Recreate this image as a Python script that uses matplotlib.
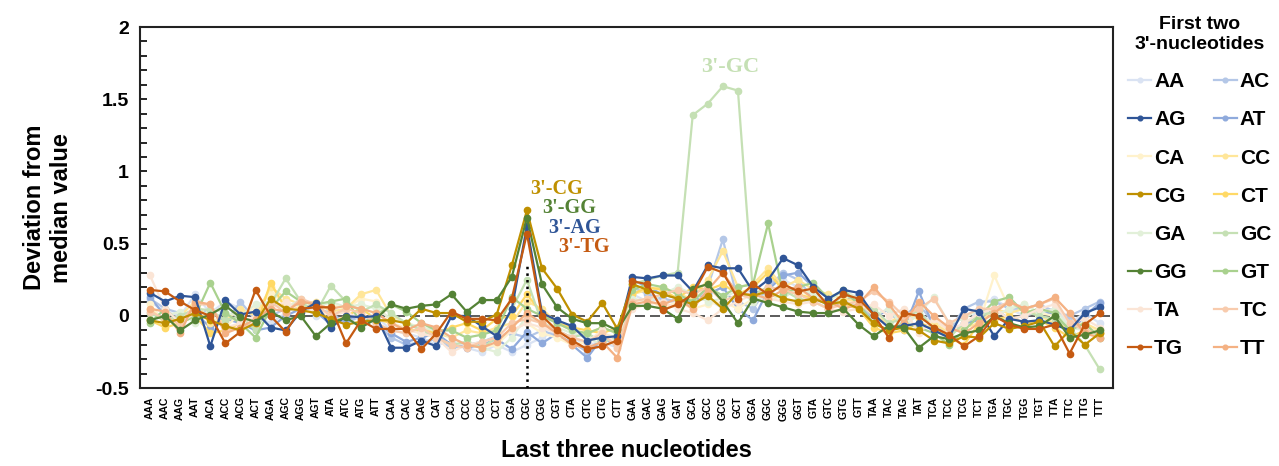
import numpy as np
import matplotlib.pyplot as plt
from matplotlib.ticker import MultipleLocator

triplets = [a + b + c for a in "ACGT" for b in "ACGT" for c in "ACGT"]

series_names = ["AA", "AC", "AG", "AT", "CA", "CC", "CG", "CT",
                "GA", "GC", "GG", "GT", "TA", "TC", "TG", "TT"]
colors = ["#dae3f3", "#b4c7e7", "#2f5597", "#8faadc", "#fff2cc", "#ffe699", "#bf9000", "#ffd966",
          "#e2f0d9", "#c5e0b4", "#548235", "#a9d18e", "#fbe5d6", "#f8cbad", "#c55a11", "#f4b183"]

AA = [0.10, 0.03, 0.00, 0.15, 0.02, 0.10, 0.05, 0.00, -0.05, 0.02, 0.08, 0.00, 0.05, 0.02, -0.02, 0.00,
      -0.10, -0.12, -0.15, -0.20, -0.18, -0.22, -0.25, -0.20, -0.25, -0.20, -0.15, -0.10, -0.15, -0.20, -0.18, -0.22,
      0.15, 0.10, 0.12, 0.08, 0.10, 0.12, 0.05, 0.15, 0.18, 0.12, 0.25, 0.20, 0.15, 0.10, 0.08, 0.10,
      0.00, 0.05, -0.05, 0.02, -0.05, -0.08, -0.12, 0.08, 0.12, 0.05, 0.00, 0.03, 0.05, -0.05, 0.02, -0.05]
AC = [0.12, 0.05, 0.02, 0.00, 0.05, -0.05, 0.10, -0.03, 0.00, 0.05, 0.08, 0.05, 0.02, -0.05, 0.00, -0.05,
      -0.15, -0.20, -0.18, -0.16, -0.22, -0.20, -0.18, -0.14, -0.12, -0.15, -0.10, -0.14, -0.18, -0.25, -0.15, -0.20,
      0.20, 0.15, 0.12, 0.10, 0.08, 0.20, 0.53, 0.10, 0.05, 0.20, 0.30, 0.25, 0.12, 0.08, 0.10, 0.08,
      -0.02, -0.05, 0.00, 0.08, -0.05, -0.10, 0.05, 0.10, 0.10, 0.05, 0.05, 0.08, 0.03, 0.00, 0.05, 0.10]
AG = [0.16, 0.10, 0.14, 0.13, -0.21, 0.11, 0.01, 0.03, -0.08, -0.10, 0.03, 0.09, -0.08, 0.00, -0.01, 0.00,
      -0.22, -0.22, -0.17, -0.21, 0.00, 0.00, -0.07, -0.14, 0.05, 0.62, 0.02, -0.03, -0.07, -0.17, -0.15, -0.14,
      0.27, 0.26, 0.28, 0.28, 0.17, 0.35, 0.33, 0.33, 0.17, 0.25, 0.40, 0.35, 0.20, 0.12, 0.18, 0.16,
      0.01, -0.08, -0.07, -0.05, -0.10, -0.15, 0.05, 0.03, -0.14, -0.02, -0.04, -0.03, -0.06, -0.10, 0.02, 0.06]
AT = [0.13, 0.00, -0.05, 0.02, -0.08, -0.02, -0.05, -0.10, -0.08, 0.00, 0.05, 0.03, -0.06, -0.02, 0.00, -0.04,
      -0.12, -0.18, -0.15, -0.12, -0.20, -0.22, -0.20, -0.16, -0.23, -0.11, -0.19, -0.12, -0.20, -0.29, -0.15, -0.20,
      0.25, 0.20, 0.15, 0.12, 0.10, 0.15, 0.20, 0.05, -0.03, 0.18, 0.28, 0.30, 0.20, 0.05, 0.10, 0.15,
      -0.02, 0.05, -0.10, 0.17, -0.08, -0.12, -0.05, -0.03, 0.05, -0.02, 0.00, 0.05, 0.00, -0.12, 0.00, 0.09]
CA = [0.08, -0.05, -0.02, 0.05, 0.00, -0.08, 0.02, 0.05, 0.15, 0.10, 0.05, 0.02, 0.08, 0.05, 0.12, 0.10,
      -0.05, -0.08, -0.12, -0.15, -0.20, -0.18, -0.22, -0.20, -0.10, -0.05, -0.12, -0.15, -0.20, -0.18, -0.12, -0.15,
      0.10, 0.12, 0.05, 0.10, 0.05, 0.08, 0.10, 0.05, 0.12, 0.10, 0.15, 0.20, 0.10, 0.05, 0.12, 0.08,
      0.05, -0.08, -0.05, 0.00, -0.05, -0.10, -0.08, -0.05, 0.28, 0.05, 0.08, 0.02, 0.00, -0.10, -0.05, -0.12]
CC = [0.05, -0.05, 0.00, 0.10, -0.05, -0.03, 0.05, 0.00, 0.20, 0.12, 0.08, 0.10, 0.03, 0.05, 0.15, 0.18,
      0.00, -0.05, -0.08, -0.12, -0.15, -0.10, -0.12, -0.08, -0.05, 0.10, 0.05, -0.05, -0.10, -0.12, -0.08, -0.12,
      0.15, 0.18, 0.20, 0.15, 0.12, 0.25, 0.45, 0.20, 0.22, 0.33, 0.20, 0.25, 0.18, 0.15, 0.12, 0.10,
      0.00, -0.05, 0.02, -0.02, -0.05, -0.12, -0.08, -0.05, 0.05, 0.02, 0.05, 0.00, -0.05, -0.08, -0.05, -0.10]
CG = [-0.03, -0.05, -0.02, 0.02, -0.03, -0.07, -0.10, -0.05, 0.12, 0.05, 0.04, 0.02, -0.02, -0.06, -0.04, -0.03,
      -0.03, -0.05, 0.05, 0.02, 0.02, -0.04, -0.04, 0.01, 0.35, 0.73, 0.33, 0.19, 0.01, -0.04, 0.09, -0.09,
      0.22, 0.18, 0.15, 0.12, 0.08, 0.14, 0.05, 0.16, 0.14, 0.17, 0.12, 0.10, 0.12, 0.08, 0.10, 0.05,
      -0.05, -0.10, -0.08, -0.10, -0.17, -0.19, -0.14, -0.15, -0.05, -0.09, -0.07, -0.04, -0.21, -0.10, -0.20, -0.12]
CT = [-0.03, -0.08, -0.05, 0.00, -0.12, -0.10, -0.05, -0.08, 0.23, 0.05, 0.05, 0.08, -0.05, 0.00, 0.05, -0.02,
      -0.05, -0.10, -0.10, -0.12, -0.08, -0.05, -0.10, -0.02, 0.00, 0.15, 0.02, -0.05, -0.08, -0.10, -0.12, -0.08,
      0.15, 0.20, 0.18, 0.12, 0.20, 0.18, 0.22, 0.15, 0.20, 0.30, 0.18, 0.15, 0.12, 0.10, 0.08, 0.05,
      -0.08, -0.12, -0.10, -0.05, -0.08, -0.15, -0.20, -0.05, -0.03, 0.00, -0.05, -0.03, -0.08, -0.15, -0.10, -0.12]
GA = [-0.02, 0.00, 0.03, -0.05, 0.05, 0.02, 0.00, 0.08, 0.10, 0.05, 0.12, 0.05, 0.10, 0.06, 0.08, 0.05,
      -0.02, -0.05, -0.08, -0.10, -0.15, -0.20, -0.22, -0.25, -0.15, 0.00, -0.05, -0.08, -0.12, -0.15, -0.20, -0.18,
      0.12, 0.10, 0.15, 0.20, 0.15, 0.10, 0.12, 0.18, 0.10, 0.15, 0.12, 0.20, 0.15, 0.10, 0.18, 0.12,
      0.00, 0.05, -0.08, 0.02, 0.13, -0.05, -0.02, 0.05, 0.00, 0.05, 0.08, 0.02, 0.05, -0.08, -0.10, -0.15]
GC = [0.02, -0.03, 0.00, 0.05, 0.04, -0.03, 0.00, -0.10, 0.08, 0.26, 0.10, 0.02, 0.21, 0.10, 0.03, 0.08,
      0.02, -0.05, -0.10, -0.15, -0.20, -0.18, -0.22, -0.15, 0.05, 0.25, -0.05, -0.10, -0.15, -0.12, -0.18, -0.15,
      0.22, 0.25, 0.28, 0.30, 1.39, 1.47, 1.59, 1.56, 0.15, 0.20, 0.18, 0.12, 0.10, 0.05, 0.15, 0.10,
      0.05, -0.05, -0.02, 0.04, -0.10, -0.15, -0.05, 0.00, 0.03, 0.10, 0.03, 0.00, -0.02, -0.08, -0.20, -0.37]
GG = [-0.03, 0.00, -0.10, -0.03, 0.01, 0.07, -0.01, -0.04, 0.03, -0.03, 0.00, -0.14, -0.05, -0.01, -0.08, -0.02,
      0.08, 0.05, 0.07, 0.08, 0.15, 0.03, 0.11, 0.11, 0.27, 0.68, 0.22, 0.06, -0.02, -0.05, -0.05, -0.10,
      0.07, 0.07, 0.05, -0.02, 0.19, 0.22, 0.10, -0.05, 0.12, 0.09, 0.06, 0.03, 0.02, 0.02, 0.05, -0.06,
      -0.14, -0.07, -0.08, -0.22, -0.14, -0.16, -0.12, -0.10, 0.00, -0.05, -0.08, -0.07, 0.00, -0.15, -0.13, -0.10]
GT = [-0.05, 0.05, -0.05, 0.00, 0.23, 0.02, -0.05, -0.15, 0.05, 0.17, 0.10, 0.08, 0.10, 0.12, -0.05, 0.00,
      0.08, 0.03, -0.05, -0.10, -0.10, -0.15, -0.13, -0.10, 0.13, 0.05, 0.00, -0.05, -0.10, -0.12, -0.08, -0.12,
      0.18, 0.22, 0.20, 0.15, 0.10, 0.20, 0.14, 0.20, 0.22, 0.64, 0.15, 0.20, 0.23, 0.12, 0.18, 0.08,
      -0.05, -0.10, -0.05, -0.08, -0.12, -0.20, -0.10, 0.00, 0.10, 0.13, 0.02, 0.05, 0.02, -0.10, -0.05, -0.15]
TA = [0.28, 0.05, -0.05, 0.02, -0.02, -0.08, -0.05, 0.00, 0.05, 0.10, 0.02, 0.05, 0.00, 0.03, -0.03, 0.02,
      -0.05, -0.10, -0.12, -0.15, -0.25, -0.20, -0.18, -0.15, -0.10, -0.05, -0.08, -0.12, -0.15, -0.18, -0.10, -0.20,
      0.05, 0.08, 0.10, 0.05, 0.02, -0.03, 0.05, 0.10, 0.15, 0.12, 0.10, 0.08, 0.10, 0.05, 0.03, 0.05,
      0.08, 0.00, 0.05, -0.12, -0.02, -0.10, -0.05, 0.02, 0.05, -0.02, 0.00, 0.05, 0.08, -0.05, -0.02, -0.08]
TC = [0.03, -0.02, -0.05, 0.08, 0.08, -0.10, -0.08, -0.05, 0.10, 0.02, 0.12, 0.08, 0.00, 0.05, 0.02, -0.05,
      -0.10, -0.12, -0.08, -0.15, -0.20, -0.22, -0.18, -0.15, -0.05, -0.02, -0.05, -0.10, -0.15, -0.18, -0.12, -0.22,
      0.10, 0.12, 0.15, 0.18, 0.15, 0.20, 0.10, 0.15, 0.12, 0.20, 0.18, 0.15, 0.10, 0.05, 0.08, 0.10,
      0.17, 0.10, 0.00, 0.05, 0.12, -0.05, 0.00, 0.05, 0.05, 0.10, 0.05, 0.08, 0.12, -0.05, -0.10, -0.12]
TG = [0.18, 0.17, 0.10, 0.04, 0.00, -0.19, -0.11, 0.18, 0.00, -0.11, 0.05, 0.06, 0.06, -0.19, -0.03, -0.09,
      -0.09, -0.09, -0.23, -0.12, 0.03, -0.02, -0.02, -0.03, 0.12, 0.57, 0.00, -0.10, -0.17, -0.23, -0.21, -0.17,
      0.24, 0.22, 0.04, 0.08, 0.15, 0.34, 0.30, 0.12, 0.22, 0.15, 0.22, 0.17, 0.19, 0.07, 0.15, 0.12,
      0.01, -0.15, 0.02, 0.00, -0.08, -0.13, -0.21, -0.14, 0.00, -0.06, -0.09, -0.09, -0.06, -0.26, -0.06, 0.02]
TT = [0.05, 0.03, -0.12, 0.10, 0.08, -0.12, -0.08, -0.02, 0.05, 0.03, 0.10, 0.08, 0.05, 0.07, 0.05, 0.02,
      -0.05, -0.10, -0.05, -0.08, -0.15, -0.20, -0.22, -0.18, -0.08, 0.02, -0.05, -0.12, -0.20, -0.22, -0.18, -0.29,
      0.08, 0.10, 0.08, 0.12, 0.05, 0.18, 0.30, 0.15, 0.15, 0.12, 0.18, 0.20, 0.12, 0.10, 0.05, 0.08,
      0.20, 0.08, -0.05, 0.10, 0.00, -0.08, -0.12, -0.05, 0.02, 0.10, 0.05, 0.08, 0.13, 0.02, -0.12, -0.15]

values = [AA, AC, AG, AT, CA, CC, CG, CT, GA, GC, GG, GT, TA, TC, TG, TT]

plt.rcParams["font.family"] = ["Liberation Sans", "DejaVu Sans"]
plt.rcParams["font.weight"] = "bold"

fig = plt.figure(figsize=(12.79, 4.66), dpi=100)
ax = fig.add_axes([0.1095, 0.167, 0.7605, 0.775])

x = np.arange(len(triplets))
lines = {}
for name, col, vals in zip(series_names, colors, values):
    (ln,) = ax.plot(x, vals, color=col, lw=1.6, marker="o", ms=4.5, label=name)
    lines[name] = ln
# dark series on top
for name in ["CG", "GG", "AG", "TG"]:
    lines[name].set_zorder(3)

ax.axhline(0, color="#404040", lw=1.2, ls=(0, (6, 3)), zorder=1)
ax.vlines(25, -0.5, 0.35, colors="black", linestyles=":", lw=1.8, zorder=4)

ax.set_xlim(-0.66, 63.86)
ax.set_ylim(-0.5, 2)
ax.set_xticks(x)
ax.set_xticklabels(triplets, rotation=90, fontsize=7.5, fontweight="bold")
ax.tick_params(axis="x", length=0, pad=6)
ax.yaxis.set_minor_locator(MultipleLocator(0.1))
ax.set_yticks([-0.5, 0, 0.5, 1, 1.5, 2])
ax.set_yticklabels(["-0.5", "0", "0.5", "1", "1.5", "2"], fontsize=14, fontweight="bold")
ax.tick_params(axis="y", which="both", direction="in", length=5, width=1.2, pad=8)
for s in ax.spines.values():
    s.set_linewidth(1.5)
    s.set_color("#222222")

ax.set_xlabel("Last three nucleotides", fontsize=17, fontweight="bold", labelpad=13)
ax.set_ylabel("Deviation from\nmedian value", fontsize=17, fontweight="bold", labelpad=16)

serif = ["Liberation Serif", "DejaVu Serif"]
ann = dict(fontsize=14.5, fontweight="bold", family=serif, ha="center", va="center")
ax.text(27.0, 0.88, "3'-CG", color="#bf9000", **ann)
ax.text(27.8, 0.745, "3'-GG", color="#548235", **ann)
ax.text(28.15, 0.61, "3'-AG", color="#2f5597", **ann)
ax.text(28.8, 0.475, "3'-TG", color="#c55a11", **ann)
ax.text(38.5, 1.72, "3'-GC", color="#c5e0b4", fontsize=16, fontweight="bold", family=serif,
        ha="center", va="center")

order = ["AA", "AG", "CA", "CG", "GA", "GG", "TA", "TG",
         "AC", "AT", "CC", "CT", "GC", "GT", "TC", "TT"]
leg = fig.legend([lines[n] for n in order], order, ncol=2, loc="upper center",
                 bbox_to_anchor=(0.938, 1.005), frameon=False,
                 title="First two\n3'-nucleotides",
                 prop={"size": 15, "weight": "bold"},
                 handlelength=1.1, handletextpad=0.15, columnspacing=1.3,
                 labelspacing=0.92, markerscale=0.75)
leg.get_title().set_fontsize(14)
leg.get_title().set_fontweight("bold")
leg.get_title().set_multialignment("center")

fig.savefig("out.png", dpi=100)
